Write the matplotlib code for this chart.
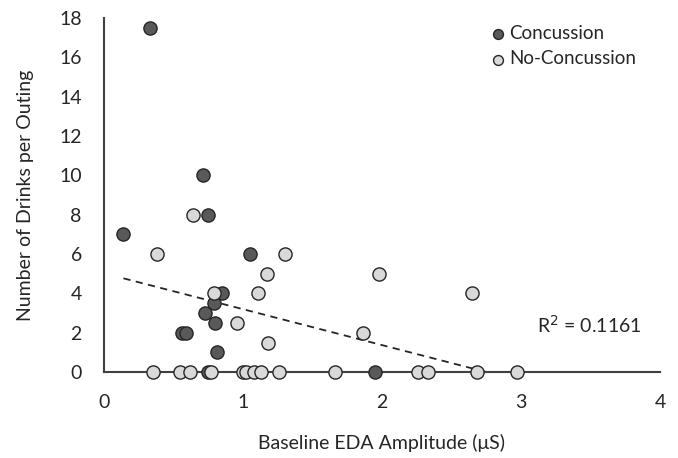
import numpy as np
import matplotlib
matplotlib.use("Agg")
import matplotlib.pyplot as plt

plt.rcParams['font.family'] = ['Lato', 'DejaVu Sans']

conc_x = [0.33, 0.71, 0.75, 0.14, 1.05, 0.85, 0.79, 0.73, 0.80, 0.56, 0.59, 0.81, 0.75, 1.95]
conc_y = [17.5, 10, 8, 7, 6, 4, 3.5, 3, 2.5, 2, 2, 1, 0, 0]

noconc_x = [0.64, 0.38, 1.30, 1.17, 1.98, 2.645, 0.79, 1.11, 0.96, 1.86, 1.18,
            0.35, 0.55, 0.62, 0.77, 1.00, 1.02, 1.08, 1.13, 1.26, 1.66, 2.26, 2.33, 2.68, 2.97]
noconc_y = [8, 6, 6, 5, 5, 4, 4, 4, 2.5, 2, 1.5,
            0, 0, 0, 0, 0, 0, 0, 0, 0, 0, 0, 0, 0, 0]

x_ticks = [0, 1, 2, 3, 4]
y_ticks = [0, 2, 4, 6, 8, 10, 12, 14, 16, 18]
r2_label = "R$^2$ = 0.1161"

fig = plt.figure(figsize=(6.78, 4.58), dpi=100)
ax = fig.add_axes([104/678, 1-372/458, (660-104)/678, (372-18)/458])

edge = '#262626'
txt = '#262626'
ax.scatter(conc_x, conc_y, s=90, facecolor='#595959', edgecolor=edge, linewidth=1.0,
           zorder=3, clip_on=False, label='Concussion')
ax.scatter(noconc_x, noconc_y, s=90, facecolor='#d9d9d9', edgecolor=edge, linewidth=1.0,
           zorder=4, clip_on=False, label='No-Concussion')

all_x = np.array(conc_x + noconc_x)
all_y = np.array(conc_y + noconc_y)
m, b = np.polyfit(all_x, all_y, 1)
xs = np.linspace(all_x.min(), all_x.max(), 200)
ys = m * xs + b
mask = ys >= 0
ax.plot(xs[mask], ys[mask], linestyle=(0, (4, 3)), color='#262626', linewidth=1.3, zorder=2)

ax.set_xlim(0, 4)
ax.set_ylim(0, 18)
ax.set_xticks(x_ticks)
ax.set_yticks(y_ticks)
ax.tick_params(axis='both', length=0, labelsize=14, colors=txt)
ax.tick_params(axis='x', pad=16)
ax.tick_params(axis='y', pad=16)
for s in ['top', 'right']:
    ax.spines[s].set_visible(False)
for s in ['left', 'bottom']:
    ax.spines[s].set_color('#404040')
    ax.spines[s].set_linewidth(1.5)

ax.set_xlabel('Baseline EDA Amplitude (μS)', fontsize=14, color=txt, labelpad=16)
ax.set_ylabel('Number of Drinks per Outing', fontsize=14, color=txt, labelpad=18)

ax.text(3.49, 2.38, r2_label, fontsize=14, color=txt, ha='center', va='center')

leg = ax.legend(loc='upper left', bbox_to_anchor=(489/678, 1-25/458), bbox_transform=fig.transFigure,
                frameon=False, fontsize=13.5, handletextpad=0.1, borderpad=0, borderaxespad=0,
                labelspacing=0.45, handlelength=1.0, markerscale=0.75)
for t in leg.get_texts():
    t.set_color(txt)

fig.savefig('out.png', dpi=100)
